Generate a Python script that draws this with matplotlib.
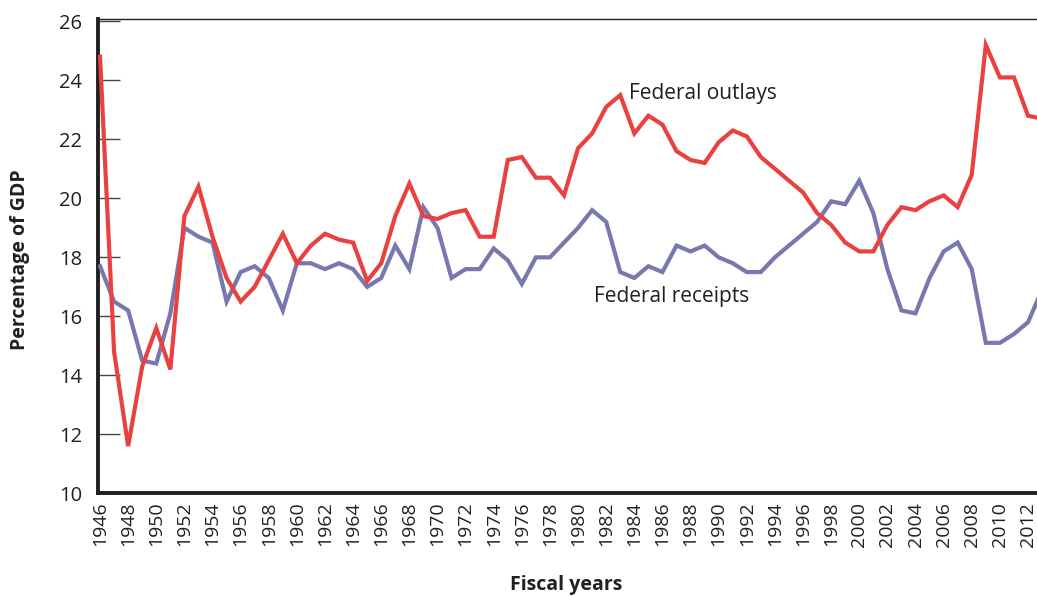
import matplotlib
matplotlib.use("Agg")
import matplotlib.pyplot as plt
import numpy as np

years = list(range(1946, 2014))
outlays = [24.8, 14.8, 11.6, 14.3, 15.6, 14.2, 19.4, 20.4, 18.7, 17.3,
           16.5, 17.0, 17.9, 18.8, 17.8, 18.4, 18.8, 18.6, 18.5, 17.2,
           17.8, 19.4, 20.5, 19.4, 19.3, 19.5, 19.6, 18.7, 18.7, 21.3,
           21.4, 20.7, 20.7, 20.1, 21.7, 22.2, 23.1, 23.5, 22.2, 22.8,
           22.5, 21.6, 21.3, 21.2, 21.9, 22.3, 22.1, 21.4, 21.0, 20.6,
           20.2, 19.5, 19.1, 18.5, 18.2, 18.2, 19.1, 19.7, 19.6, 19.9,
           20.1, 19.7, 20.8, 25.2, 24.1, 24.1, 22.8, 22.7]
receipts = [17.7, 16.5, 16.2, 14.5, 14.4, 16.1, 19.0, 18.7, 18.5, 16.5,
            17.5, 17.7, 17.3, 16.2, 17.8, 17.8, 17.6, 17.8, 17.6, 17.0,
            17.3, 18.4, 17.6, 19.7, 19.0, 17.3, 17.6, 17.6, 18.3, 17.9,
            17.1, 18.0, 18.0, 18.5, 19.0, 19.6, 19.2, 17.5, 17.3, 17.7,
            17.5, 18.4, 18.2, 18.4, 18.0, 17.8, 17.5, 17.5, 18.0, 18.4,
            18.8, 19.2, 19.9, 19.8, 20.6, 19.5, 17.6, 16.2, 16.1, 17.3,
            18.2, 18.5, 17.6, 15.1, 15.1, 15.4, 15.8, 16.9]
xtick_years = list(range(1946, 2013, 2))
ytick_vals = list(range(10, 27, 2))

plt.rcParams['font.family'] = ['Open Sans', 'DejaVu Sans']
TXT = '#231F20'
RED = '#E8413F'
BLUE = '#7878AE'

fig = plt.figure(figsize=(10.37, 5.97), dpi=100)
ax = fig.add_axes([97.5 / 1037, 1 - 493.3 / 597, 1 - 97.5 / 1037, (493.3 - 19) / 597])

ax.plot(years, receipts, color=BLUE, lw=3.0, solid_joinstyle='miter', zorder=3)
ax.plot(years, outlays, color=RED, lw=3.0, solid_joinstyle='miter', zorder=4)

ax.set_xlim(1945.82, 2012.64)
ax.set_ylim(10, 26.08)

ax.set_xticks(xtick_years)
ax.set_xticklabels([str(y) for y in xtick_years], rotation=90, fontsize=14, color=TXT)
ax.set_yticks(ytick_vals)
ax.set_yticklabels([str(v) for v in ytick_vals], fontsize=14.5, color=TXT)
ax.tick_params(axis='x', length=0, pad=6)
ax.tick_params(axis='y', direction='in', length=16, width=1.0, color='#444444', pad=11)

for side in ['left', 'bottom']:
    ax.spines[side].set_linewidth(2.8)
    ax.spines[side].set_color(TXT)
ax.spines['top'].set_linewidth(1.0)
ax.spines['top'].set_color(TXT)
ax.spines['right'].set_visible(False)

ax.text(1983.62, 23.36, 'Federal outlays', fontsize=15, color=TXT, ha='left', va='baseline')
ax.text(1981.16, 16.49, 'Federal receipts', fontsize=15, color=TXT, ha='left', va='baseline')

fig.text(20 / 1037, 1 - 260 / 597, 'Percentage of GDP', rotation=90, fontsize=14,
         fontweight='bold', color=TXT, ha='center', va='center')
fig.text(566 / 1037, 1 - 585 / 597, 'Fiscal years', fontsize=14,
         fontweight='bold', color=TXT, ha='center', va='center')

fig.savefig('out.png', dpi=100)
